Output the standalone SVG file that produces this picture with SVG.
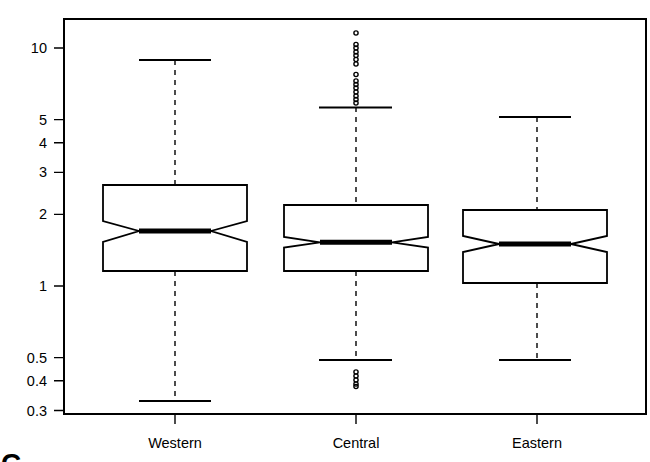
<svg xmlns="http://www.w3.org/2000/svg" width="650" height="462" viewBox="0 0 650 462">
<style>
text{font-family:"Liberation Sans",Arial,sans-serif;font-size:14.5px;fill:#000}
.ax{stroke:#000;stroke-width:1.4;fill:none}
.frame{stroke:#000;stroke-width:2;fill:none}
.box{stroke:#000;stroke-width:1.8;fill:#fff;stroke-linejoin:miter}
.med{stroke:#000;stroke-width:5;stroke-linecap:butt}
.wh{stroke:#000;stroke-width:1.4;stroke-dasharray:5,5;fill:none}
.cap{stroke:#000;stroke-width:1.8}
.out{stroke:#000;stroke-width:1.4;fill:none}
</style>
<rect width="650" height="462" fill="#fff"/>
<g id="axes">
<rect class="frame" x="64" y="19" width="582" height="395"/>
<path class="ax" d="M54 48H64M54 119.6H64M54 142.8H64M54 172.4H64M54 214.4H64M54 286H64M54 357.6H64M54 380.7H64M54 410.5H64"/>
<g text-anchor="end">
<text x="47" y="53">10</text>
<text x="47" y="124.6">5</text>
<text x="47" y="147.8">4</text>
<text x="47" y="177.4">3</text>
<text x="47" y="219.4">2</text>
<text x="47" y="291">1</text>
<text x="47" y="362.6">0.5</text>
<text x="47" y="385.7">0.4</text>
<text x="47" y="415.5">0.3</text>
</g>
<path class="ax" d="M175 414V424M356 414V424M537 414V424"/>
<g text-anchor="middle">
<text x="175" y="448">Western</text>
<text x="356" y="448">Central</text>
<text x="537" y="448">Eastern</text>
</g>
</g>
<g id="connectors">
<path class="wh" d="M175 60V185M175 271V401"/>
<path class="wh" d="M356 107V205M356 271V360"/>
<path class="wh" d="M537 117V210M537 283V360"/>
</g>
<g id="western">
<path class="box" d="M103 185H247V221L211 231L247 242V271H103V242L139 231L103 221Z"/>
<line class="med" x1="139" y1="231" x2="211" y2="231"/>
<path class="cap" d="M139 60H211M139 401H211"/>
</g>
<g id="central">
<path class="box" d="M284 205H428V237L392 242.3L428 247.5V271H284V247.5L320 242.3L284 237Z"/>
<line class="med" x1="320" y1="242.3" x2="392" y2="242.3"/>
<path class="cap" d="M319 107.5H392M319 360H392"/>
<g class="out">
<circle cx="356" cy="33" r="2.1"/><circle cx="356" cy="44.5" r="2.1"/><circle cx="356" cy="48" r="2.1"/>
<circle cx="356" cy="52" r="2.1"/><circle cx="356" cy="55.5" r="2.1"/><circle cx="356" cy="59.5" r="2.1"/>
<circle cx="356" cy="64" r="2.1"/><circle cx="356" cy="74.5" r="2.1"/><circle cx="356" cy="81" r="2.1"/>
<circle cx="356" cy="84.5" r="2.1"/><circle cx="356" cy="88" r="2.1"/><circle cx="356" cy="92" r="2.1"/>
<circle cx="356" cy="96" r="2.1"/><circle cx="356" cy="99.5" r="2.1"/><circle cx="356" cy="103" r="2.1"/>
<circle cx="356" cy="372" r="2.1"/><circle cx="356" cy="376" r="2.1"/><circle cx="356" cy="380" r="2.1"/>
<circle cx="356" cy="384" r="2.1"/><circle cx="356" cy="386.5" r="2.1"/>
</g>
</g>
<g id="eastern">
<path class="box" d="M463 210H607V236L571 244L607 252V283H463V252L499 244L463 236Z"/>
<line class="med" x1="499" y1="244" x2="571" y2="244"/>
<path class="cap" d="M499 117H571M499 360H571"/>
</g>
<text x="1" y="473" style="font-size:28px;font-weight:bold">C</text>
</svg>
